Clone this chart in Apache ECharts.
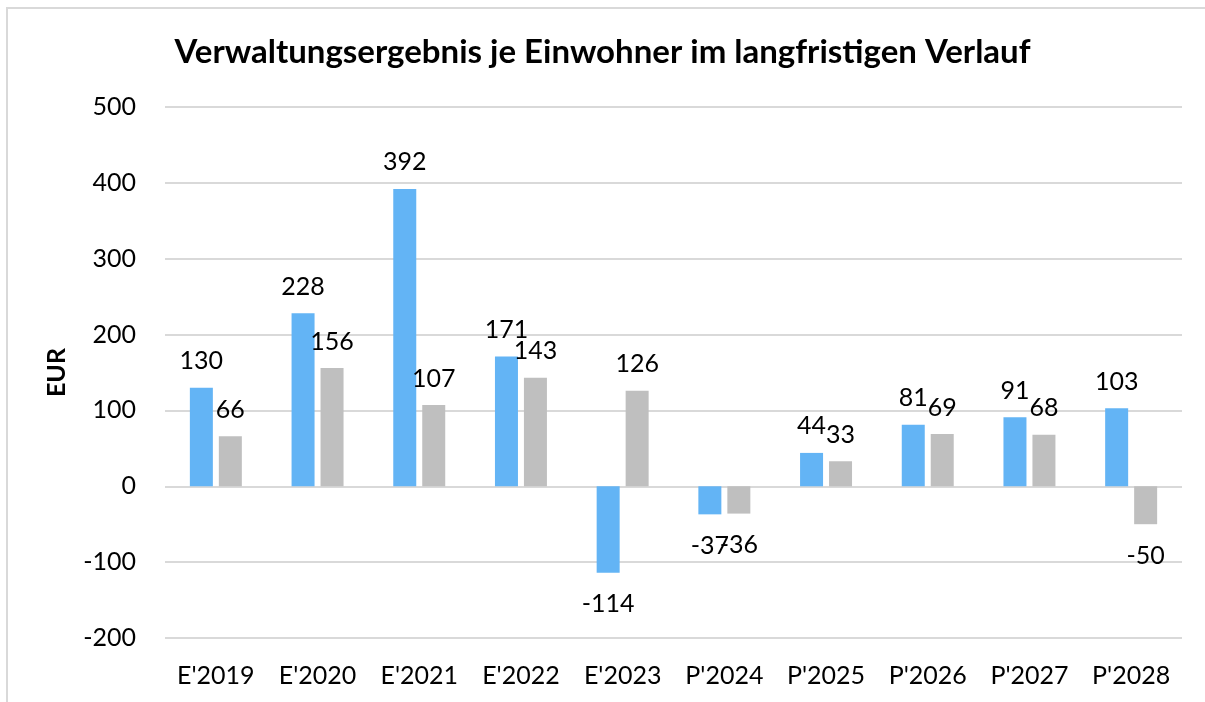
<!DOCTYPE html>
<html>
<head>
<meta charset="utf-8">
<script src="https://cdn.jsdelivr.net/npm/echarts@6/dist/echarts.min.js"></script>
<style>
html, body { margin: 0; padding: 0; background: #fff; }
#frame { position: absolute; left: 6px; top: 7px; width: 1199px; height: 695px;
  border-top: 2px solid #d9d9d9; border-left: 2px solid #d9d9d9; box-sizing: border-box; }
#chart { position: absolute; left: 0; top: 0; width: 1205px; height: 702px; }
</style>
</head>
<body>
<div id="frame"></div>
<div id="chart"></div>
<script>
var categories = ["E'2019", "E'2020", "E'2021", "E'2022", "E'2023", "P'2024", "P'2025", "P'2026", "P'2027", "P'2028"];
var seriesA = [130, 228, 392, 171, -114, -37, 44, 81, 91, 103];
var seriesB = [66, 156, 107, 143, 126, -36, 33, 69, 68, -50];
var yTicks = { min: -200, max: 500, interval: 100 };

var font = "Lato, 'Open Sans', sans-serif";

// negative values get their label under the bar
function withLabels(values) {
	return values.map(function(v){
		return {
			value: v,
			label: v < 0 ? { position: 'bottom', distance: 19 } : { position: 'top', distance: 14 }
		};
	});
}

var chart = echarts.init(document.getElementById('chart'), null, {renderer: 'canvas'});
var option = {
	animation: false,
	title: {
		text: 'Verwaltungsergebnis je Einwohner im langfristigen Verlauf',
		left: 'center',
		top: 31,
		textStyle: { fontFamily: font, fontWeight: 'bold', fontSize: 33, color: '#000' }
	},
	grid: { left: 165, right: 23, top: 107, bottom: 64, containLabel: false },
	xAxis: {
		type: 'category',
		data: categories,
		axisLine: { show: false },
		axisTick: { show: false },
		axisLabel: { fontFamily: font, fontSize: 25, color: '#000', margin: 25 }
	},
	yAxis: {
		type: 'value',
		min: yTicks.min,
		max: yTicks.max,
		interval: yTicks.interval,
		name: 'EUR',
		nameLocation: 'middle',
		nameGap: 96,
		nameRotate: 90,
		nameTextStyle: { fontFamily: font, fontWeight: 'bold', fontSize: 25, color: '#000' },
		axisLine: { show: false },
		axisTick: { show: false },
		axisLabel: { fontFamily: font, fontSize: 25, color: '#000', margin: 29 },
		splitLine: { lineStyle: { color: '#d9d9d9', width: 2 } }
	},
	series: [{
		type: 'bar',
		data: withLabels(seriesA),
		barWidth: 23,
		barGap: '26%',
		itemStyle: { color: '#63b4f5' },
		label: { show: true, fontFamily: font, fontSize: 25, color: '#000' }
	}, {
		type: 'bar',
		data: withLabels(seriesB),
		barWidth: 23,
		itemStyle: { color: '#bfbfbf' },
		label: { show: true, fontFamily: font, fontSize: 25, color: '#000' }
	}]
};
chart.setOption(option);
</script>
</body>
</html>
